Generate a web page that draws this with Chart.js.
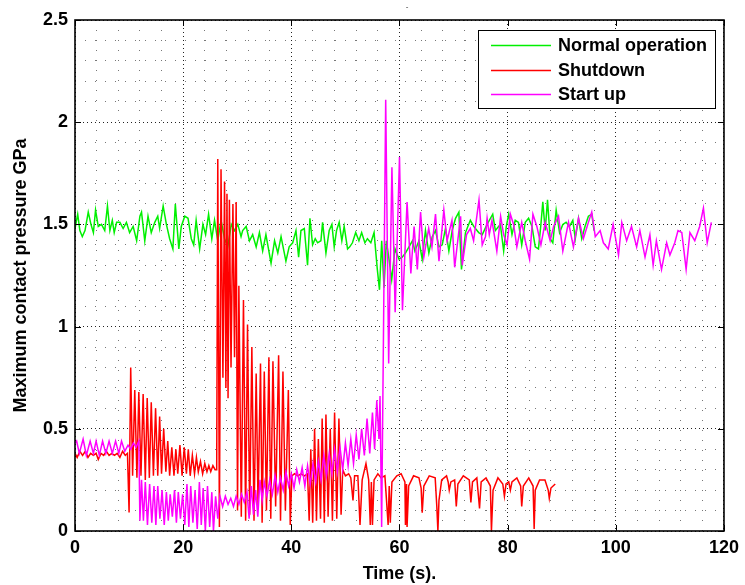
<!DOCTYPE html>
<html><head><meta charset="utf-8">
<script src="https://cdn.jsdelivr.net/npm/chart.js@4"></script>
<style>html,body{margin:0;padding:0;background:#fff}#wrap{width:745px;height:585px}</style>
</head><body><div id="wrap"><canvas id="c" width="745" height="585"></canvas></div>
<script>
const xTicks = [0,20,40,60,80,100,120];
const yTicks = [0,0.5,1,1.5,2,2.5];
const xMinorTicks = [4,8,12,16,24,28,32,36,44,48,52,56,64,68,72,76,84,88,92,96,104,108,112,116];
const yMinorTicks = [0.1,0.2,0.3,0.4,0.6,0.7,0.8,0.9,1.1,1.2,1.3,1.4,1.6,1.7,1.8,1.9,2.1,2.2,2.3,2.4];
const seriesLabels = ['Normal operation','Shutdown','Start up'];
const seriesColors = ['#00f000','#ff0000','#ff00ff'];

// [time (s), max contact pressure (GPa)]
const normalOperation = [
[0,1.48],[0.5,1.55],[0.9,1.47],[1.35,1.44],[1.85,1.47],[2.45,1.56],[2.95,1.50],[3.4,1.46],[3.8,1.57],[4.3,1.49],
[4.9,1.50],[5.5,1.47],[6.0,1.59],[6.45,1.47],[6.9,1.52],[7.25,1.46],[7.7,1.51],[8.3,1.51],[8.9,1.48],[9.5,1.51],
[10.1,1.46],[10.75,1.49],[11.4,1.42],[12.0,1.54],[12.3,1.56],[12.9,1.42],[13.5,1.54],[14.1,1.46],[14.75,1.51],[15.3,1.54],
[15.65,1.48],[16.3,1.59],[16.9,1.50],[17.5,1.43],[18.1,1.38],[18.55,1.60],[19.2,1.38],[19.65,1.49],[20.3,1.54],[20.9,1.53],
[21.5,1.43],[21.95,1.40],[22.4,1.52],[23.05,1.38],[23.65,1.50],[24.15,1.45],[24.7,1.55],[25.3,1.43],[25.8,1.52],[26.4,1.42],
[27.0,1.52],[27.65,1.43],[28.25,1.39],[28.9,1.50],[29.5,1.47],[30.1,1.50],[30.7,1.44],[31.0,1.47],[31.65,1.49],[32.25,1.42],
[32.85,1.45],[33.5,1.39],[34.1,1.46],[34.7,1.37],[35.3,1.45],[36.25,1.31],[36.9,1.42],[37.5,1.36],[38.1,1.44],[39.0,1.32],
[39.6,1.39],[40.25,1.41],[40.86,1.47],[41.35,1.34],[41.78,1.47],[42.4,1.48],[43.0,1.30],[43.44,1.53],[43.93,1.40],[44.42,1.43],
[44.86,1.41],[45.47,1.42],[45.78,1.51],[46.4,1.36],[47.0,1.47],[47.5,1.50],[47.93,1.39],[48.36,1.47],[48.85,1.51],[49.34,1.42],
[49.77,1.49],[50.4,1.38],[50.8,1.39],[51.3,1.41],[51.9,1.46],[52.5,1.42],[53.0,1.46],[53.6,1.41],[54.07,1.43],[54.7,1.41],
[55.3,1.46],[55.9,1.28],[56.3,1.18],[56.71,1.42],[57.14,1.19],[57.57,1.42],[58.06,1.33],[58.56,1.23],[59.17,1.38],[59.91,1.33],
[60.5,1.34],[61.1,1.36],[61.75,1.39],[62.4,1.42],[62.85,1.37],[63.6,1.42],[64.2,1.33],[64.8,1.47],[65.43,1.36],[66.05,1.44],
[66.66,1.47],[67.3,1.39],[67.9,1.40],[68.5,1.48],[69.13,1.37],[69.75,1.47],[70.36,1.53],[70.98,1.56],[71.46,1.28],[72.2,1.46],
[73.1,1.52],[73.73,1.49],[74.65,1.46],[75.3,1.45],[76.2,1.50],[77.24,1.55],[77.73,1.47],[78.65,1.50],[79.26,1.37],[79.75,1.49],
[80.2,1.55],[80.8,1.45],[81.4,1.52],[82.0,1.51],[82.6,1.40],[83.25,1.51],[83.87,1.53],[84.5,1.49],[85.1,1.39],[85.7,1.38],
[86.15,1.50],[86.5,1.61],[86.94,1.47],[87.37,1.62],[87.86,1.43],[88.35,1.41],[88.97,1.57],[89.6,1.46],[90.2,1.50],[90.8,1.51],
[91.43,1.49],[92.05,1.52],[92.5,1.43],[93.1,1.53],[93.7,1.43],[94.3,1.49],[94.93,1.54],[95.55,1.55],[95.98,1.47]
];

const shutdown = [
[0,0.38],[0.4,0.36],[0.9,0.39],[1.4,0.37],[1.9,0.39],[2.4,0.36],[2.9,0.38],[3.4,0.37],[3.9,0.38],[4.3,0.35],
[4.8,0.38],[5.3,0.37],[5.8,0.39],[6.3,0.37],[6.8,0.38],[7.3,0.37],[7.8,0.38],[8.3,0.36],[8.8,0.39],[9.3,0.37],
[9.7,0.38],[10.0,0.09],[10.3,0.80],[10.65,0.27],[11.05,0.69],[11.45,0.26],[11.8,0.68],[12.2,0.27],[12.6,0.67],[13.0,0.25],
[13.35,0.65],[13.75,0.26],[14.1,0.63],[14.5,0.27],[14.9,0.60],[15.3,0.27],[15.65,0.56],[16.0,0.28],[16.4,0.50],[16.8,0.29],
[17.15,0.44],[17.5,0.27],[17.9,0.41],[18.3,0.27],[18.65,0.40],[19.0,0.28],[19.4,0.42],[19.8,0.27],[20.2,0.41],[20.6,0.28],
[20.95,0.40],[21.3,0.27],[21.7,0.37],[22.1,0.28],[22.45,0.36],[22.8,0.29],[23.2,0.34],[23.6,0.28],[24.0,0.33],[24.4,0.29],
[24.75,0.32],[25.1,0.29],[25.5,0.32],[25.9,0.30],[26.2,0.30],[26.4,1.82],[26.7,0.02],[27.0,1.77],[27.35,0.75],[27.65,1.71],
[27.9,0.70],[28.1,1.65],[28.3,0.65],[28.55,1.62],[28.85,0.80],[29.2,1.60],[29.5,0.85],[29.8,1.61],[30.05,0.10],[30.3,1.20],
[30.75,0.07],[31.15,1.13],[31.55,0.05],[31.9,1.01],[32.3,0.08],[32.7,0.90],[33.1,0.05],[33.5,0.77],[33.85,0.12],[34.3,0.82],
[34.6,0.04],[35.0,0.78],[35.4,0.10],[35.85,0.85],[36.2,0.06],[36.6,0.83],[37.1,0.12],[37.65,0.86],[38.0,0.05],[38.45,0.78],
[38.9,0.10],[39.45,0.69],[39.8,0.03],[40.1,0.27],[40.6,0.28],[41.2,0.27],[41.8,0.28],[42.4,0.27],[43.0,0.28],[43.3,0.05],
[43.6,0.40],[43.95,0.04],[44.3,0.50],[44.65,0.05],[45.0,0.45],[45.4,0.06],[45.7,0.55],[46.1,0.04],[46.4,0.57],[46.8,0.07],
[47.2,0.50],[47.6,0.05],[48.0,0.58],[48.4,0.06],[48.8,0.55],[49.2,0.08],[49.5,0.30],[50.0,0.27],[50.6,0.28],[51.0,0.26],
[51.4,0.15],[51.7,0.27],[52.3,0.27],[52.7,0.03],[53.1,0.25],[53.8,0.33],[54.3,0.25],[54.6,0.03],[54.8,0.24],[55.0,0.03],
[55.3,0.25],[56.0,0.28],[56.6,0.26],[57.3,0.27],[57.9,0.03],[58.1,0.22],[58.3,0.04],[58.6,0.24],[59.5,0.27],[60.3,0.28],
[61.0,0.24],[61.1,0.03],[61.3,0.23],[61.4,0.02],[61.7,0.22],[62.6,0.27],[63.6,0.26],[64.0,0.21],[64.2,0.09],[64.5,0.22],
[65.5,0.27],[66.6,0.26],[66.9,0.12],[67.1,0.0],[67.3,0.15],[67.8,0.25],[68.7,0.27],[69.0,0.24],[69.2,0.20],[69.5,0.24],
[70.2,0.25],[70.5,0.12],[70.8,0.23],[71.8,0.27],[72.9,0.25],[73.2,0.14],[73.5,0.24],[74.3,0.26],[74.8,0.11],[75.1,0.24],
[76.0,0.26],[76.8,0.22],[77.0,0.0],[77.3,0.20],[78.2,0.26],[79.1,0.23],[79.4,0.17],[79.7,0.23],[80.2,0.24],[80.5,0.20],
[80.8,0.24],[81.7,0.26],[82.4,0.22],[82.6,0.12],[82.9,0.22],[83.9,0.26],[84.7,0.22],[84.9,0.01],[85.1,0.20],[85.9,0.25],
[86.9,0.25],[87.5,0.20],[87.7,0.16],[88.0,0.21],[88.8,0.23]
];

const startUp = [
[0,0.43],[0.3,0.44],[0.8,0.38],[1.5,0.45],[2.1,0.37],[2.8,0.44],[3.4,0.38],[3.9,0.44],[4.5,0.37],[5.1,0.44],
[5.7,0.38],[6.3,0.44],[6.9,0.38],[7.5,0.44],[8.1,0.38],[8.6,0.44],[9.2,0.39],[9.8,0.42],[10.3,0.40],[10.8,0.43],
[11.3,0.41],[11.8,0.44],[12.0,0.05],[12.3,0.25],[12.65,0.05],[13.0,0.24],[13.4,0.03],[13.8,0.23],[14.2,0.04],[14.6,0.22],
[14.95,0.03],[15.3,0.22],[15.7,0.06],[16.1,0.20],[16.5,0.03],[16.9,0.19],[17.25,0.05],[17.6,0.18],[18.0,0.07],[18.4,0.20],
[18.75,0.04],[19.1,0.19],[19.5,0.06],[19.9,0.18],[20.3,0.03],[20.7,0.23],[21.05,0.02],[21.4,0.22],[21.8,0.04],[22.2,0.20],
[22.6,0.01],[23.0,0.24],[23.35,0.03],[23.7,0.21],[24.1,0.0],[24.5,0.22],[24.9,0.02],[25.3,0.19],[25.6,0.0],[26.0,0.17],
[26.4,0.06],[26.8,0.17],[27.3,0.12],[27.8,0.17],[28.3,0.13],[28.8,0.16],[29.3,0.12],[29.8,0.17],[30.3,0.13],[30.8,0.18],
[31.3,0.14],[31.8,0.19],[32.2,0.06],[32.6,0.22],[33.0,0.08],[33.4,0.20],[33.8,0.07],[34.2,0.25],[34.6,0.15],[35.0,0.24],
[35.5,0.17],[36.0,0.25],[36.5,0.18],[37.0,0.27],[37.5,0.19],[38.0,0.26],[38.5,0.20],[39.0,0.29],[39.5,0.22],[40.0,0.28],
[40.5,0.21],[41.0,0.30],[41.5,0.24],[42.0,0.31],[42.5,0.22],[43.0,0.32],[43.5,0.23],[44.0,0.33],[44.5,0.24],[45.0,0.34],
[45.5,0.25],[46.0,0.37],[46.5,0.27],[47.0,0.38],[47.5,0.28],[48.0,0.40],[48.5,0.29],[49.0,0.41],[49.5,0.30],[50.0,0.43],
[50.5,0.32],[51.0,0.45],[51.5,0.33],[52.0,0.47],[52.5,0.35],[53.0,0.50],[53.5,0.37],[54.0,0.55],[54.5,0.38],[55.0,0.58],
[55.4,0.40],[55.8,0.64],[56.2,0.45],[56.4,0.66],[56.7,0.02],[57.45,2.11],[58.0,0.82],[58.6,1.78],[59.2,1.07],[60.0,1.83],
[60.55,1.08],[61.4,1.61],[62.1,1.26],[62.7,1.49],[63.3,1.28],[63.9,1.56],[64.5,1.34],[65.4,1.48],[66.0,1.39],[66.66,1.55],
[67.3,1.32],[68.2,1.57],[68.8,1.42],[69.7,1.52],[70.2,1.29],[71.3,1.54],[71.6,1.30],[72.4,1.45],[73.1,1.48],[73.7,1.42],
[74.7,1.62],[75.3,1.40],[75.9,1.44],[76.2,1.53],[76.6,1.45],[77.1,1.52],[78.0,1.37],[78.7,1.54],[79.26,1.45],[79.88,1.40],
[80.5,1.55],[81.1,1.50],[81.7,1.39],[82.6,1.51],[83.25,1.42],[84.05,1.33],[84.67,1.55],[85.4,1.49],[86.15,1.40],[86.94,1.51],
[87.86,1.42],[88.5,1.49],[89.4,1.54],[90.2,1.37],[91.25,1.51],[92.16,1.39],[93.1,1.53],[94.0,1.43],[94.93,1.51],[95.55,1.56],
[96.2,1.44],[97.1,1.47],[97.7,1.41],[98.6,1.38],[99.5,1.50],[100.5,1.35],[101.1,1.51],[102.0,1.42],[102.9,1.49],[103.85,1.39],
[104.45,1.47],[105.4,1.34],[106.3,1.45],[106.9,1.30],[107.5,1.42],[108.45,1.28],[109.4,1.41],[110.0,1.35],[110.9,1.41],[111.5,1.47],
[112.2,1.46],[113.0,1.28],[113.7,1.46],[114.6,1.42],[115.5,1.49],[116.2,1.58],[116.9,1.41],[117.66,1.51]
];

const FONT = '"Liberation Sans", Arial, Helvetica, sans-serif';
const toXY = arr => arr.map(p => ({x: p[0], y: p[1]}));

const framePlugin = {
  id: 'frame',
  afterDatasetsDraw(chart) {
    const {ctx, chartArea: a, scales} = chart;
    ctx.save();
    ctx.strokeStyle = '#000';
    ctx.lineWidth = 1;
    const tl = 6;
    const seg = (x1, y1, x2, y2) => { ctx.beginPath(); ctx.moveTo(x1, y1); ctx.lineTo(x2, y2); ctx.stroke(); };
    xTicks.forEach(v => {
      const px = Math.round(scales.x.getPixelForValue(v)) + 0.5;
      seg(px, a.bottom, px, a.bottom - tl);
      seg(px, a.top, px, a.top + tl);
    });
    yTicks.forEach(v => {
      const py = Math.round(scales.y.getPixelForValue(v)) + 0.5;
      seg(a.left, py, a.left + tl, py);
      seg(a.right, py, a.right - tl, py);
    });
    ctx.lineWidth = 1.6;
    ctx.strokeRect(a.left, a.top, a.right - a.left, a.bottom - a.top);
    ctx.restore();
  },
  afterDraw(chart) {
    const ctx = chart.ctx;
    ctx.save();
    ctx.fillStyle = '#fff';
    ctx.fillRect(478.5, 30.5, 237, 78);
    ctx.strokeStyle = '#000';
    ctx.lineWidth = 1;
    ctx.strokeRect(478.5, 30.5, 237, 78);
    const rows = [45, 70, 94];
    chart.data.datasets.forEach((ds, i) => {
      ctx.strokeStyle = ds.borderColor;
      ctx.lineWidth = 1.4;
      ctx.beginPath(); ctx.moveTo(491, rows[i] + 0.5); ctx.lineTo(551, rows[i] + 0.5); ctx.stroke();
      ctx.fillStyle = '#000';
      ctx.font = 'bold 18px ' + FONT;
      ctx.textAlign = 'left';
      ctx.textBaseline = 'middle';
      ctx.fillText(ds.label, 558, rows[i] + 1);
    });
    ctx.fillStyle = '#333';
    ctx.font = '8px ' + FONT;
    ctx.textAlign = 'center';
    ctx.fillText('-', 407, 7);
    ctx.restore();
  }
};

const tickFont = {family: FONT, size: 18, weight: 'bold'};

new Chart(document.getElementById('c'), {
  type: 'line',
  data: {
    datasets: [
      {label: seriesLabels[0], data: toXY(normalOperation), borderColor: seriesColors[0], borderWidth: 1.5, pointRadius: 0, fill: false, tension: 0, order: 3},
      {label: seriesLabels[1], data: toXY(shutdown), borderColor: seriesColors[1], borderWidth: 1.5, pointRadius: 0, fill: false, tension: 0, order: 2},
      {label: seriesLabels[2], data: toXY(startUp), borderColor: seriesColors[2], borderWidth: 1.5, pointRadius: 0, fill: false, tension: 0, order: 1}
    ]
  },
  options: {
    responsive: false,
    animation: false,
    events: [],
    layout: {padding: {top: 20, right: 18, left: 0, bottom: 0}},
    plugins: {legend: {display: false}, tooltip: {enabled: false}, title: {display: false}},
    scales: {
      x: {
        type: 'linear', position: 'bottom', min: 0, max: 120,
        afterBuildTicks: s => { s.ticks = xTicks.map(v => ({value: v})); },
        afterFit: s => { s.height = 54; },
        ticks: {color: '#000', font: tickFont, padding: 6, maxRotation: 0, callback: v => String(v)},
        grid: {color: '#222', lineWidth: 1, drawTicks: false},
        border: {display: false, dash: [1, 3]},
        title: {display: true, text: 'Time (s).', color: '#000', font: tickFont, padding: {top: 0, bottom: 0}}
      },
      xm: {
        type: 'linear', position: 'bottom', min: 0, max: 120,
        afterBuildTicks: s => { s.ticks = xMinorTicks.map(v => ({value: v})); },
        afterFit: s => { s.height = 0; },
        ticks: {display: false},
        grid: {color: '#777', lineWidth: 1, drawTicks: false},
        border: {display: false, dash: [1, 9]}
      },
      y: {
        type: 'linear', position: 'left', min: 0, max: 2.5,
        afterBuildTicks: s => { s.ticks = yTicks.map(v => ({value: v})); },
        afterFit: s => { s.width = 75; },
        ticks: {color: '#000', font: tickFont, padding: 7, callback: v => String(v)},
        grid: {color: '#222', lineWidth: 1, drawTicks: false},
        border: {display: false, dash: [1, 3]},
        title: {display: true, text: 'Maximum contact pressure GPa', color: '#000', font: tickFont, padding: {top: 10, bottom: 0}}
      },
      ym: {
        type: 'linear', position: 'left', min: 0, max: 2.5,
        afterBuildTicks: s => { s.ticks = yMinorTicks.map(v => ({value: v})); },
        afterFit: s => { s.width = 0; },
        ticks: {display: false},
        grid: {color: '#777', lineWidth: 1, drawTicks: false},
        border: {display: false, dash: [1, 9]}
      }
    }
  },
  plugins: [framePlugin]
});
</script>
</body></html>
